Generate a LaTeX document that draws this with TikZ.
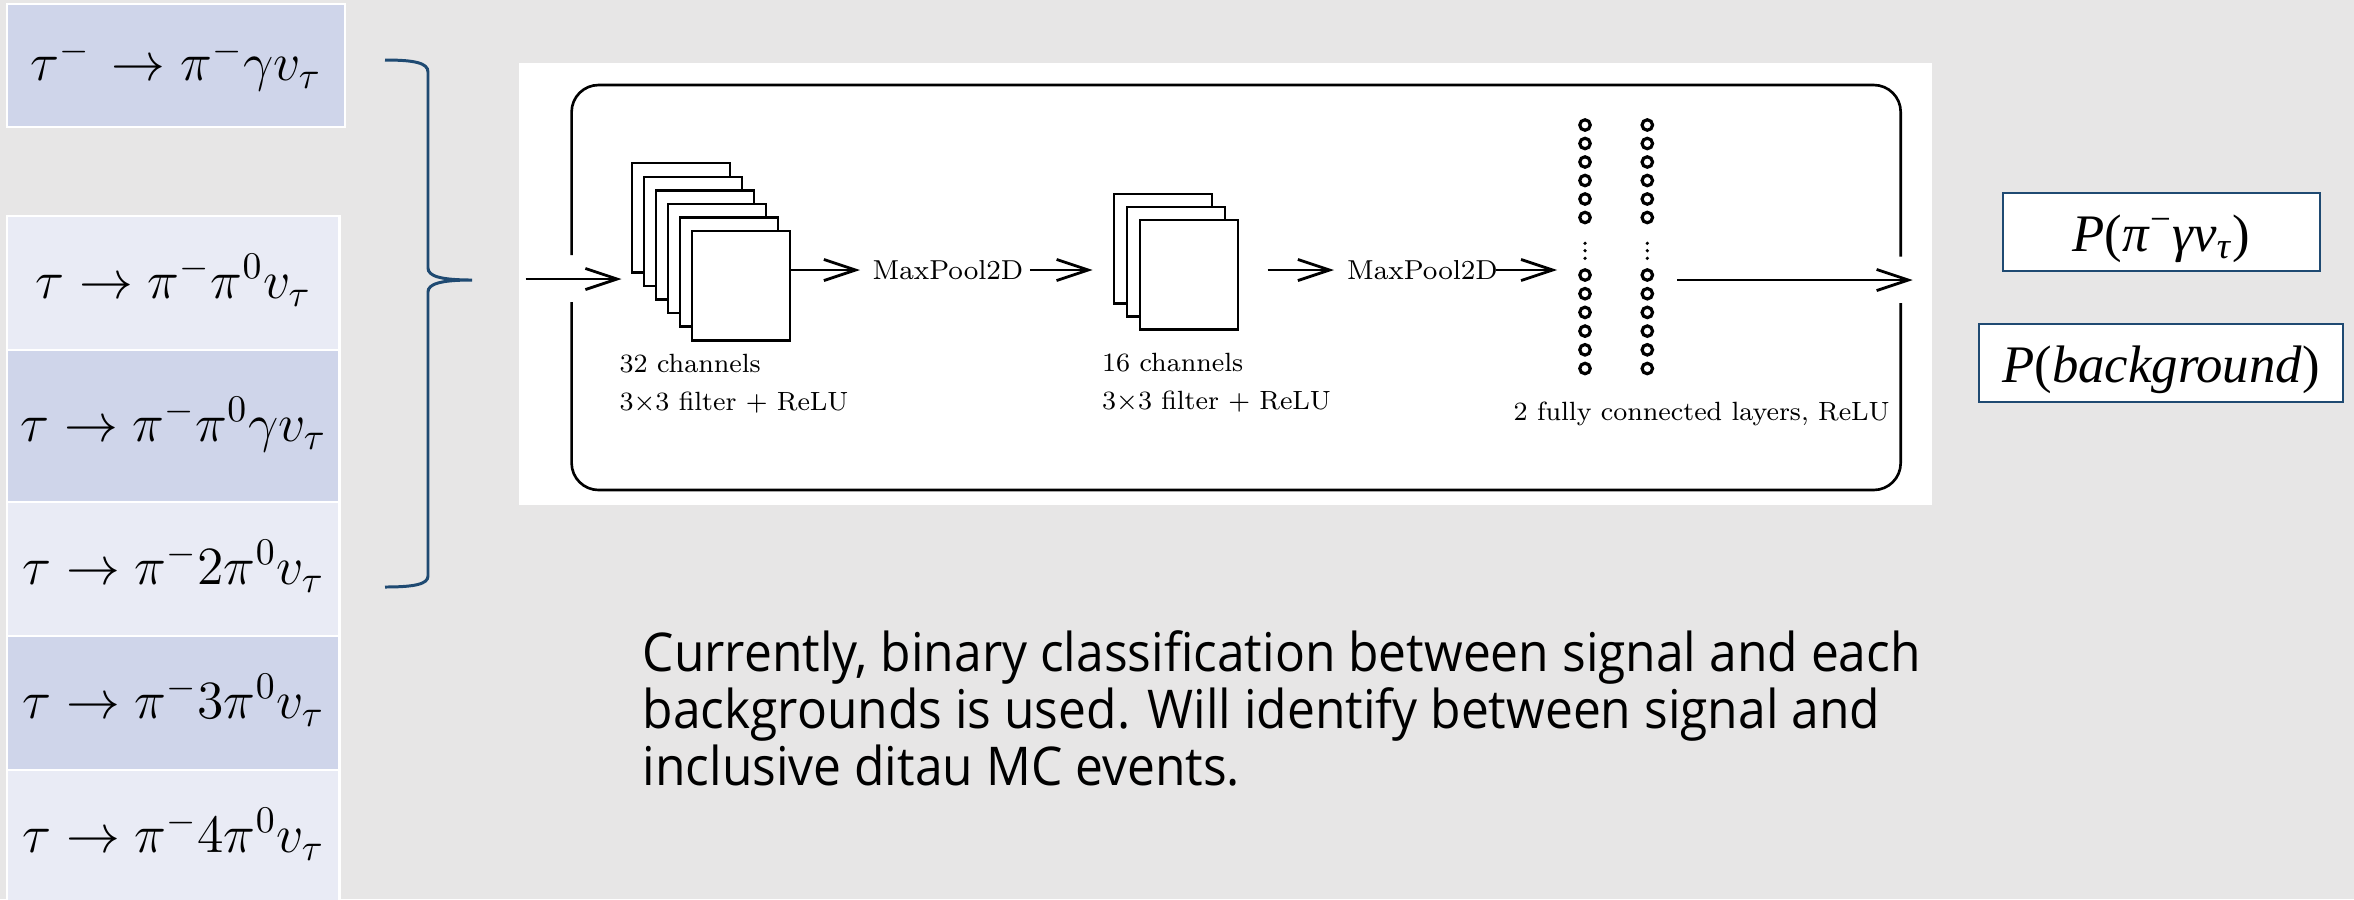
\RequirePackage{fix-cm}
\documentclass[tikz,border=0pt]{standalone}
\usepackage{fontspec}
\usepackage{amsmath}
\usetikzlibrary{arrows.meta}
\newfontfamily\bodyfont{Open Sans}[FakeStretch=0.93]
\newfontfamily\pfont{Liberation Serif}
\definecolor{bgc}{HTML}{E7E6E6}
\definecolor{cellD}{HTML}{CFD5EA}
\definecolor{cellL}{HTML}{E9EBF5}
\definecolor{navy}{HTML}{1F4A72}
\tikzset{
  cellbase/.style={draw=white, line width=0.7pt, inner sep=0, minimum width=3.325cm,
     text height=8.6pt, text depth=0pt, font=\fontsize{15.3}{19}\selectfont},
  celldark/.style={cellbase, fill=cellD},
  celllight/.style={cellbase, fill=cellL},
  fmap/.style={draw, fill=white, line width=0.7pt, inner sep=0, anchor=north west,
     minimum width=0.98cm, minimum height=1.09cm},
  neuron/.style={circle, draw, line width=0.9pt, inner sep=0, minimum size=0.105cm},
  dotn/.style={circle, fill, inner sep=0, minimum size=0.036cm},
  lbl/.style={inner sep=0, font=\fontsize{7.5}{9}\selectfont},
  mplbl/.style={inner sep=0, font=\fontsize{7.8}{9.4}\selectfont},
  arr/.style={line width=0.8pt, -{Straight Barb[length=9pt,width=6pt,line width=0.8pt]}},
  pbox/.style={draw=navy, line width=0.6pt, fill=white, inner sep=0, text height=10.8pt,
     text depth=0pt, font=\pfont\fontsize{15}{18}\selectfont},
}
\begin{document}
\begin{tikzpicture}[x=0.01cm, y=-0.01cm]
\useasboundingbox (0,0) rectangle (2354,899);
\fill[bgc] (0,0) rectangle (2354,899);

% decay table
\node[celldark, minimum width=3.38cm, minimum height=1.23cm] (r1) at (176,65.5) {$\tau^{-}\mkern2mu\rightarrow \pi^{-}\gamma v_{\tau}$};
\node[celllight, minimum height=1.34cm] (r2) at (173.25,283) {$\tau \rightarrow \pi^{-}\pi^{0}v_{\tau}$};
\node[celldark, minimum height=1.52cm] (r3) at (173.25,426) {$\tau \rightarrow \pi^{-}\pi^{0}\gamma v_{\tau}$};
\node[celllight, minimum height=1.34cm] (r4) at (173.25,569) {$\tau \rightarrow \pi^{-}2\pi^{0}v_{\tau}$};
\node[celldark, minimum height=1.34cm] (r5) at (173.25,703) {$\tau \rightarrow \pi^{-}3\pi^{0}v_{\tau}$};
\node[celllight, minimum height=1.34cm] (r6) at (173.25,837) {$\tau \rightarrow \pi^{-}4\pi^{0}v_{\tau}$};

% brace
\draw[navy, line width=0.85pt] (385,60) .. controls (415,60) and (428,63) .. (428,72)
  -- (428,268) .. controls (428,276) and (440,280) .. (472,280)
  .. controls (440,280) and (428,284) .. (428,292)
  -- (428,576) .. controls (428,584) and (415,587) .. (385,587);

% network figure
\fill[white] (519,63) rectangle (1932,505);
\draw[line width=0.75pt, rounded corners=0.27cm] (571.6,255) -- (571.6,85) -- (1900.7,85) -- (1900.7,256.7);
\draw[line width=0.75pt, rounded corners=0.27cm] (1900.7,303) -- (1900.7,490) -- (571.6,490) -- (571.6,302);

\foreach \i in {0,...,5} \node[fmap] (c1\i) at ({630.5+12.06*\i},{162+13.6*\i}) {};
\foreach \i in {0,1,2} \node[fmap] (c2\i) at ({1112.7+12.95*\i},{193+13*\i}) {};

\foreach \yy [count=\k] in {125,143.5,162,180.5,199,217.5,275,293.7,312.4,331.1,349.8,368.5} {
  \node[neuron] (a\k) at (1585,\yy) {};
  \node[neuron] (b\k) at (1647.3,\yy) {};
}
\foreach \yy [count=\k] in {243.3,250.7,258.3} {
  \node[dotn] (ad\k) at (1585,\yy) {};
  \node[dotn] (bd\k) at (1647.3,\yy) {};
}

\node[mplbl, anchor=west] (mp1) at (872,270) {MaxPool2D};
\node[mplbl, anchor=west] (mp2) at (1346.5,270) {MaxPool2D};

\node[lbl, anchor=base west] (t1a) at (619,372) {32 channels};
\node[lbl, anchor=base west] (t1b) at (619,410) {3×3 filter + ReLU};
\node[lbl, anchor=base west] (t2a) at (1101.5,371) {16 channels};
\node[lbl, anchor=base west] (t2b) at (1101.5,409) {3×3 filter + ReLU};
\node[lbl, anchor=base west] (t3) at (1513,420) {2 fully connected layers, ReLU};

\coordinate (inp) at (525.6,279);
\coordinate (outp) at (1912.7,280);
\draw[arr, shorten >=0.09cm] (inp) -- (c10.west |- inp);
\draw[arr, shorten >=0.12cm] (c15.east |- mp1.west) -- (mp1.west);
\draw[arr, shorten <=0.06cm, shorten >=0.2cm] (mp1.east) -- (c20.west |- mp1.east);
\draw[arr, shorten <=0.285cm, shorten >=0.125cm] (c22.east |- mp2.west) -- (mp2.west);
\draw[arr, shorten <=-0.02cm, shorten >=0.21cm] (mp2.east) -- (a1.west |- mp2.east);
\draw[arr, shorten <=0.23cm] (b9.east |- outp) -- (outp);

% outputs
\node[pbox, minimum width=3.17cm, minimum height=0.78cm] (p1) at (2161.5,232)
  {\textit{P}(\textit{π}\textsuperscript{−}\textit{γν}\textsubscript{\textit{τ}})};
\node[pbox, minimum width=3.64cm, minimum height=0.78cm] (p2) at (2161,363)
  {\textit{P}(\textit{background})};

% note
\node[anchor=base west, inner sep=0, align=left, font=\bodyfont\fontsize{15.2}{16.1}\selectfont] (note) at (642,785)
  {Currently, binary classification between signal and each\\
   backgrounds is used. Will identify between signal and\\
   inclusive ditau MC events.};
\end{tikzpicture}
\end{document}
